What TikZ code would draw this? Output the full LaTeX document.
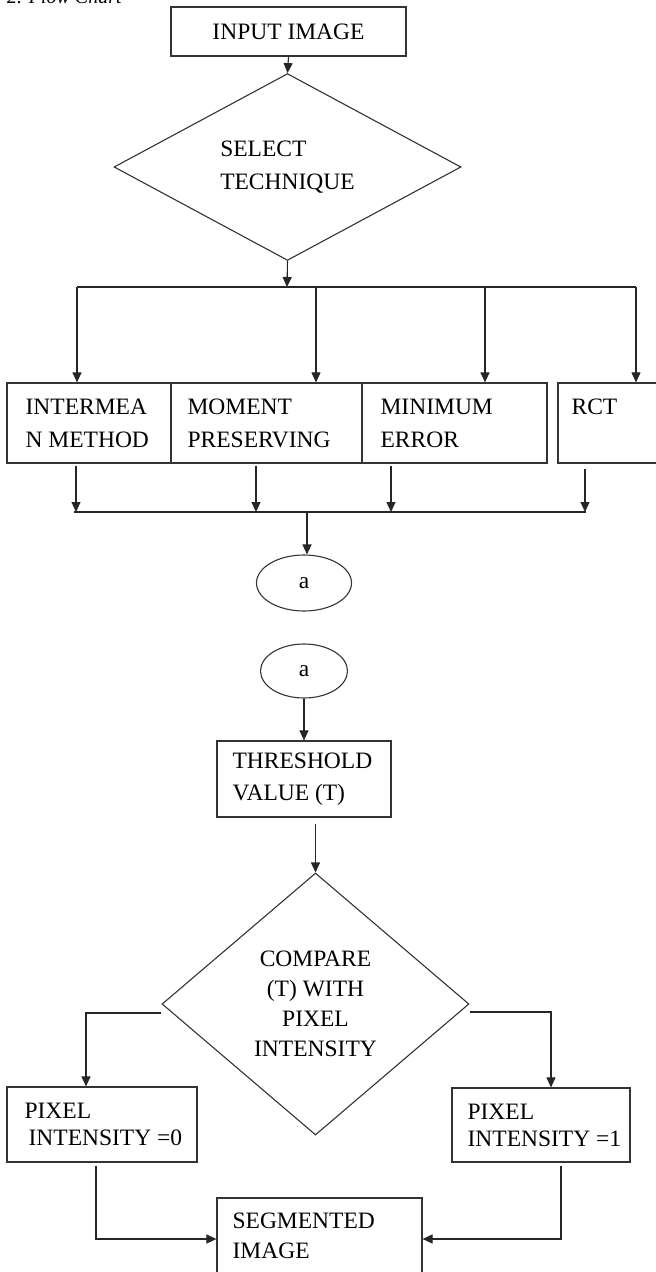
\documentclass[tikz,border=0pt]{standalone}
\usepackage{fontspec}
\setmainfont{Liberation Serif}
\usetikzlibrary{shapes.geometric,arrows.meta,calc}
\begin{document}
\begin{tikzpicture}[x=1pt,y=-1pt,
  txt/.style={inner sep=0pt, align=left, font=\fontsize{23.5}{32}\selectfont},
  box/.style={draw=black!80, line width=1.2pt, rectangle, inner sep=0pt,
    font=\fontsize{23.5}{32}\selectfont},
  dia/.style={draw=black!80, line width=1.1pt, diamond, inner sep=0pt, aspect=1},
  oval/.style={draw=black!80, line width=1.1pt, ellipse, inner sep=0pt,
    font=\fontsize{23.5}{32}\selectfont},
  ln/.style={line width=1.1pt, draw=black!85},
  arr/.style={ln, -{Triangle[length=10pt,width=9pt]}}]
\useasboundingbox[fill=white] (0,0) rectangle (656,1272);

% section heading, cut by the page top
\node[anchor=base west, inner sep=0pt, font=\fontsize{20}{24}\selectfont\itshape] (hdr) at (7,3.5) {2. Flow Chart};

% --- first part: choosing the technique ---
\node[box, minimum width=235pt, minimum height=49pt] (input) at (288.5,31.5) {INPUT IMAGE};
\node[dia, minimum width=347pt, minimum height=144pt, align=left,
  font=\fontsize{23.5}{33}\selectfont] (sel) at (287.5,167) {SELECT\\TECHNIQUE};

\node[box, minimum width=164pt, minimum height=80pt] (im)  at (89,423) {};
\node[box, minimum width=191pt, minimum height=80pt] (mp)  at (266.5,423) {};
\node[box, minimum width=185pt, minimum height=80pt] (me)  at (454.5,423) {};
\node[box, minimum width=112pt, minimum height=80pt] (rct) at (614,423) {};

\node[txt, anchor=west, font=\fontsize{23.5}{33}\selectfont] (imT) at ([xshift=19pt]im.west) {INTERMEA\\N METHOD};
\node[txt, anchor=west, font=\fontsize{23.5}{33}\selectfont] (mpT) at ([xshift=17pt]mp.west) {MOMENT\\PRESERVING};
\node[txt, anchor=west, font=\fontsize{23.5}{33}\selectfont] (meT) at ([xshift=19pt]me.west) {MINIMUM\\ERROR};
\node[txt, anchor=west] (rctT) at ([xshift=14pt,yshift=16pt]rct.west) {RCT};

% fork above the four techniques
\coordinate (fork) at (287,287);
\coordinate (bL) at (77,287);
\coordinate (b2) at (316,287);
\coordinate (b3) at (485,287);
\coordinate (bR) at (636,287);
\draw[arr] (sel.south) -- (fork);
\draw[ln] (bL) -- (bR);
\draw[arr] (bL) -- (bL |- im.north);
\draw[arr] (b2) -- (b2 |- mp.north);
\draw[arr] (b3) -- (b3 |- me.north);
\draw[arr] (bR) -- (bR |- rct.north);
\draw[arr] (input.south) -- (sel.north);

% join below the four techniques
\coordinate (m1) at (76,512);
\coordinate (m2) at (256,512);
\coordinate (m3) at (391,512);
\coordinate (m4) at (585,512);
\coordinate (join) at (307,512);
\draw[arr] ([yshift=-2pt]m1 |- im.south) -- (m1);
\draw[arr] ([yshift=-2pt]m2 |- mp.south) -- (m2);
\draw[arr] ([yshift=-2pt]m3 |- me.south) -- (m3);
\draw[arr] ([yshift=-5pt]m4 |- rct.south) -- (m4);
\draw[ln] ([xshift=-2pt]m1) -- ([xshift=1pt]m4);

% off-page connectors
\node[oval, minimum width=95pt, minimum height=56pt] (e1) at (304,583) {\raisebox{-5pt}{a}};
\node[oval, minimum width=87pt, minimum height=54pt] (e2) at (304,671) {a};
\draw[arr] (join) -- (join |- e1.north);

% --- second part: thresholding ---
\node[box, minimum width=174pt, minimum height=76pt] (thr) at (304,779) {};
\node[txt, anchor=west] (thrT) at ([xshift=16pt]thr.west) {THRESHOLD\\VALUE (T)};
\draw[arr] (e2.south) -- (thr.north);

\node[dia, minimum width=307pt, minimum height=262pt, align=center,
  font=\fontsize{23.5}{30}\selectfont] (cmp) at (315.5,1004) {COMPARE\\(T) WITH\\PIXEL\\INTENSITY};
\draw[arr] ([yshift=-6pt]cmp.north |- thr.south) -- (cmp.north);

\node[box, minimum width=190pt, minimum height=75pt] (p0) at (102,1124.5) {};
\node[box, minimum width=178pt, minimum height=74pt] (p1) at (541,1125) {};
\node[txt, anchor=west, font=\fontsize{23.5}{27}\selectfont] (p0T) at ([xshift=18pt]p0.west) {PIXEL\\\hspace*{4pt}INTENSITY =0};
\node[txt, anchor=west, font=\fontsize{23.5}{27}\selectfont] (p1T) at ([xshift=16pt]p1.west) {PIXEL\\INTENSITY =1};

\draw[arr] ([yshift=-9pt]cmp.west) -| ([xshift=-16pt]p0.north);
\draw[arr] ([yshift=-8pt]cmp.east) -| ([xshift=10pt]p1.north);

\node[box, minimum width=205pt, minimum height=82pt] (seg) at (319.5,1239) {};
\node[txt, anchor=west, font=\fontsize{23.5}{30}\selectfont] (segT) at ([xshift=16pt,yshift=3pt]seg.west) {SEGMENTED\\IMAGE};

\draw[arr] ([xshift=-6pt,yshift=-3pt]p0.south) |- (seg.west);
\draw[arr] ([xshift=20pt,yshift=-3pt]p1.south) |- (seg.east);
\end{tikzpicture}
\end{document}
